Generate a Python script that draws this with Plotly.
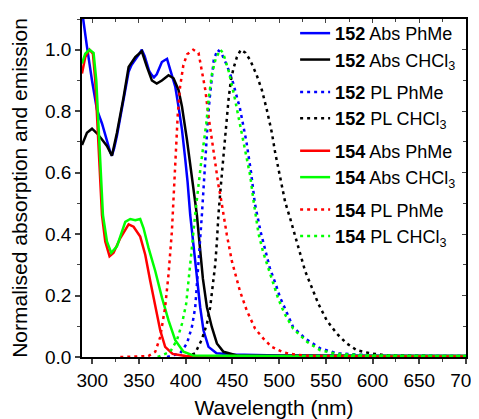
import plotly.graph_objects as go

# ---- data ----
abs152_phme_x = [288, 290, 294.3, 299.7, 305, 310.4, 315, 319.3, 321, 323.5, 326.4, 330, 333.5, 338.9, 342, 346, 350, 353, 356, 358.5, 361, 363.8, 366, 369, 372, 374.5, 377, 380, 383.4, 388.8, 392.3, 396, 399.5, 402, 404.8, 408.4, 412, 415.5, 419, 424.4, 433, 450, 500, 600, 700]
abs152_phme_y = [1.15, 1.10, 1.01, 0.90, 0.805, 0.76, 0.71, 0.666, 0.655, 0.68, 0.72, 0.78, 0.837, 0.928, 0.95, 0.966, 0.985, 1.0, 0.98, 0.955, 0.93, 0.917, 0.91, 0.92, 0.94, 0.96, 0.965, 0.97, 0.935, 0.88, 0.815, 0.74, 0.644, 0.57, 0.463, 0.355, 0.248, 0.162, 0.087, 0.033, 0.012, 0.008, 0.005, 0.004, 0.003]

abs152_chcl3_x = [289, 294.3, 299.7, 305, 310.4, 315.7, 321, 326.4, 333.5, 338.9, 346, 353, 358.5, 363.8, 369, 374.5, 381.6, 387, 392.3, 396, 401.3, 404.8, 408, 412, 414.8, 418.4, 422.7, 428, 433.4, 440.4, 455, 500, 600, 700]
abs152_chcl3_y = [0.69, 0.73, 0.743, 0.728, 0.708, 0.687, 0.655, 0.73, 0.845, 0.944, 0.976, 0.995, 0.944, 0.90, 0.89, 0.90, 0.917, 0.907, 0.869, 0.815, 0.708, 0.623, 0.545, 0.462, 0.37, 0.255, 0.162, 0.097, 0.044, 0.017, 0.005, 0.004, 0.003, 0.003]

pl152_phme_x = [380, 394, 401.3, 406.6, 410.2, 412.6, 414.8, 417.3, 419, 420.5, 422, 423.5, 425.5, 428, 430, 434, 438, 444, 450, 458, 465, 470, 474, 480, 485, 490, 496, 501, 508, 515, 528, 544, 562, 600, 700]
pl152_phme_y = [0.0, 0.012, 0.044, 0.097, 0.162, 0.248, 0.355, 0.462, 0.55, 0.612, 0.687, 0.762, 0.837, 0.92, 0.966, 1.0, 0.99, 0.95, 0.90, 0.81, 0.70, 0.60, 0.50, 0.41, 0.345, 0.29, 0.24, 0.194, 0.146, 0.097, 0.06, 0.028, 0.012, 0.005, 0.003]

pl152_chcl3_x = [400, 410, 417, 422.7, 426.2, 429, 431.6, 433.4, 435, 437.6, 440.4, 442.2, 444, 445.8, 448.3, 451.2, 454.8, 459, 464, 469, 476, 481.5, 486.8, 492.2, 495.7, 501, 506.4, 511.8, 517.1, 522.5, 527.8, 535, 542, 551, 561.7, 572.4, 583.1, 597.3, 615, 650, 700]
pl152_chcl3_y = [0.0, 0.012, 0.055, 0.108, 0.162, 0.226, 0.301, 0.376, 0.462, 0.558, 0.655, 0.708, 0.784, 0.837, 0.90, 0.94, 0.976, 1.0, 0.99, 0.966, 0.917, 0.869, 0.805, 0.73, 0.666, 0.58, 0.505, 0.451, 0.392, 0.333, 0.28, 0.226, 0.173, 0.119, 0.076, 0.044, 0.022, 0.012, 0.005, 0.003, 0.002]

abs154_phme_x = [289, 292.5, 297, 300.7, 303.2, 305, 306.8, 308.6, 310.4, 313.9, 318.5, 322.8, 330, 338.9, 344.2, 351.3, 356.7, 362, 367.4, 372.7, 378, 386, 400, 500, 700]
abs154_phme_y = [0.923, 0.976, 1.0, 0.987, 0.90, 0.794, 0.666, 0.55, 0.462, 0.376, 0.328, 0.339, 0.387, 0.432, 0.424, 0.392, 0.333, 0.248, 0.162, 0.087, 0.033, 0.01, 0.003, 0.002, 0.002]

abs154_chcl3_x = [289, 292.5, 297, 301.4, 304.3, 306, 307.7, 309.6, 311.4, 315.7, 320.3, 326.4, 335.3, 340.6, 346, 351.3, 354.9, 360.2, 367.4, 374.5, 381.6, 388.8, 397.6, 408, 500, 700]
abs154_chcl3_y = [0.955, 0.987, 1.0, 0.99, 0.90, 0.79, 0.666, 0.55, 0.462, 0.376, 0.339, 0.36, 0.44, 0.449, 0.445, 0.449, 0.419, 0.355, 0.28, 0.194, 0.119, 0.055, 0.017, 0.005, 0.003, 0.003]

pl154_phme_x = [330, 360, 367.4, 372.7, 378, 381.6, 385.2, 386.5, 388, 389.8, 391.5, 394, 397.5, 401.5, 408, 413.7, 417.3, 421, 424.4, 428, 430, 433.4, 435, 438, 440.4, 444, 449.4, 453, 458, 465.4, 474.3, 483.2, 492, 503, 512, 530, 600, 700]
pl154_phme_y = [0.0, 0.003, 0.017, 0.065, 0.162, 0.269, 0.408, 0.48, 0.60, 0.69, 0.79, 0.88, 0.95, 0.985, 1.0, 0.99, 0.933, 0.869, 0.784, 0.708, 0.655, 0.59, 0.56, 0.51, 0.462, 0.398, 0.312, 0.269, 0.215, 0.151, 0.092, 0.06, 0.033, 0.017, 0.01, 0.004, 0.002, 0.002]

pl154_chcl3_x = [370, 383.4, 390.6, 396, 400.5, 404, 406.6, 410, 413, 416, 419, 422, 425, 428, 432, 437, 440, 446, 452, 458, 464, 469, 473, 478, 483, 489, 494, 499, 506, 515, 530, 544, 562, 600, 700]
pl154_chcl3_y = [0.0, 0.017, 0.055, 0.108, 0.173, 0.269, 0.355, 0.46, 0.55, 0.62, 0.69, 0.76, 0.85, 0.92, 0.97, 1.0, 0.99, 0.93, 0.85, 0.76, 0.67, 0.59, 0.50, 0.40, 0.34, 0.285, 0.237, 0.19, 0.14, 0.092, 0.049, 0.022, 0.01, 0.005, 0.003]

series = [
    ("<b>152</b> Abs PhMe", abs152_phme_x, abs152_phme_y, "#0000FF", "solid", "g1"),
    ("<b>152</b> Abs CHCl<sub>3</sub>", abs152_chcl3_x, abs152_chcl3_y, "#000000", "solid", "g1"),
    ("<b>152</b> PL PhMe", pl152_phme_x, pl152_phme_y, "#0000FF", "3px,4px", "g2"),
    ("<b>152</b> PL CHCl<sub>3</sub>", pl152_chcl3_x, pl152_chcl3_y, "#000000", "3px,4px", "g2"),
    ("<b>154</b> Abs PhMe", abs154_phme_x, abs154_phme_y, "#FF0000", "solid", "g3"),
    ("<b>154</b> Abs CHCl<sub>3</sub>", abs154_chcl3_x, abs154_chcl3_y, "#00FF00", "solid", "g3"),
    ("<b>154</b> PL PhMe", pl154_phme_x, pl154_phme_y, "#FF0000", "3px,4px", "g4"),
    ("<b>154</b> PL CHCl<sub>3</sub>", pl154_chcl3_x, pl154_chcl3_y, "#00FF00", "3px,4px", "g4"),
]

x_range = [289, 700]
y_range = [0, 1.1]

fig = go.Figure()
n = len(series)
for i, (name, xs, ys, col, dash, grp) in enumerate(series):
    # the last (top-most) series is drawn on the overlaid axis pair so the
    # inside ticks of the top and right frame are rendered
    axes = dict(xaxis="x2", yaxis="y2") if i == n - 1 else {}
    fig.add_trace(go.Scatter(x=xs, y=ys, mode="lines", name=name, legendgroup=grp,
                             line=dict(color=col, width=2.5, dash=dash), **axes))

font_family = "Arial, Liberation Sans, sans-serif"
# the page body adds an 8px margin, so the figure is 8px smaller than the window
fig.update_layout(
    width=471, height=411,
    margin=dict(l=74, r=13, t=7, b=62),
    plot_bgcolor="white", paper_bgcolor="white",
    font=dict(family=font_family, size=19, color="black"),
    showlegend=True,
    legend=dict(x=0.555, y=1.012, xanchor="left", yanchor="top", bgcolor="rgba(0,0,0,0)",
                font=dict(size=18), tracegroupgap=6, itemwidth=30, traceorder="grouped",
                maxheight=380),
    xaxis=dict(range=x_range, tick0=300, dtick=50, ticks="outside", ticklen=5, tickwidth=1.5,
               showline=True, linecolor="black", linewidth=1.5, mirror=True, showgrid=False,
               zeroline=False, automargin=False, ticklabeloverflow="allow",
               minor=dict(dtick=25, tick0=275, ticks="outside", ticklen=3, tickwidth=1.2, showgrid=False),
               title=dict(text="Wavelength (nm)", font=dict(size=21), standoff=12)),
    yaxis=dict(range=y_range, tick0=0, dtick=0.2, tickformat=".1f", ticks="outside", ticklen=5, tickwidth=1.5,
               showline=True, linecolor="black", linewidth=1.5, mirror=True, showgrid=False,
               zeroline=False, automargin=False, ticklabeloverflow="allow",
               minor=dict(dtick=0.1, ticks="outside", ticklen=3, tickwidth=1.2, showgrid=False),
               title=dict(text="Normalised absorption and emission", font=dict(size=21), standoff=14)),
    xaxis2=dict(range=x_range, overlaying="x", side="top", tick0=300, dtick=50, ticks="inside", ticklen=4,
                tickwidth=1.2, showticklabels=False, showgrid=False, zeroline=False, showline=False,
                automargin=False,
                minor=dict(dtick=25, tick0=275, ticks="inside", ticklen=3, tickwidth=1.0)),
    yaxis2=dict(range=y_range, overlaying="y", side="right", tick0=0, dtick=0.2, ticks="inside", ticklen=4,
                tickwidth=1.2, showticklabels=False, showgrid=False, zeroline=False, showline=False,
                automargin=False,
                minor=dict(dtick=0.1, ticks="inside", ticklen=3, tickwidth=1.0)),
)

fig.write_html("out.html")
